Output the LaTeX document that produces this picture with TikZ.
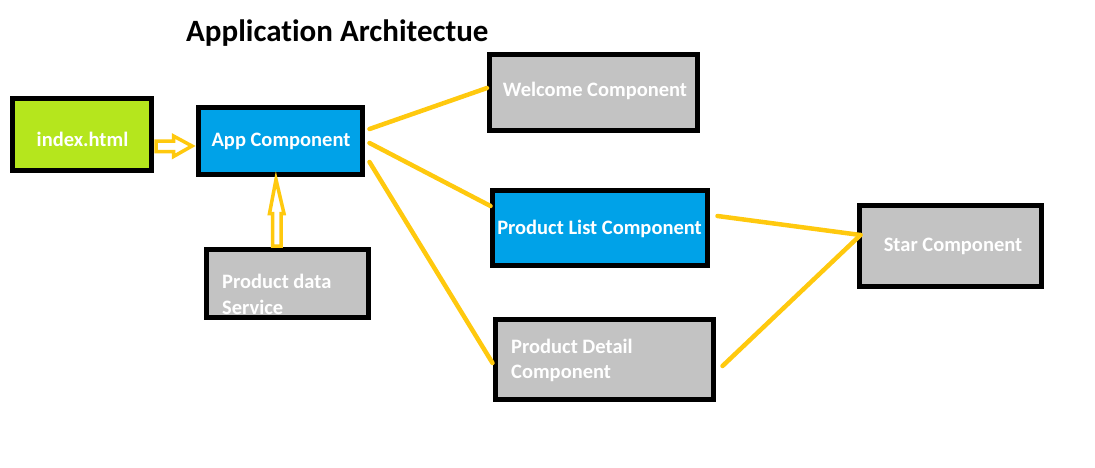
\documentclass[tikz,border=0pt]{standalone}
\usepackage{fontspec}
\setmainfont{Carlito}[Ligatures=NoCommon]
\usetikzlibrary{calc}
\definecolor{lime}{HTML}{B5E61D}
\definecolor{pblue}{HTML}{00A2E8}
\definecolor{pgray}{HTML}{C3C3C3}
\definecolor{pyellow}{HTML}{FFC90E}
\tikzset{
  box/.style={draw=black, line width=5pt, inner sep=0pt},
  boxtext/.style={text=white, font=\fontsize{20.5}{25.5}\selectfont\bfseries, inner sep=0pt},
  link/.style={draw=pyellow, line width=4.5pt, line cap=round},
  hollow/.style={draw=pyellow, fill=white, line width=3.5pt, line join=miter},
}
\begin{document}
\begin{tikzpicture}[x=1pt,y=-1pt]
\useasboundingbox (0,0) rectangle (1095,467);
\node[font=\fontsize{31}{36}\selectfont\bfseries, anchor=base west, inner sep=0pt] (title) at (186,41) {Application Architectue};

\node[box, fill=lime, minimum width=139pt, minimum height=72pt] (idx) at (82,134.5) {};
\node[boxtext] (idxt) at (82.5,139) {index.html};

\node[box, fill=pblue, minimum width=164pt, minimum height=67pt] (app) at (280.5,141) {};
\node[boxtext] (appt) at (281,141) {App Component};

\node[box, fill=pgray, minimum width=162pt, minimum height=68pt] (svc) at (287.5,283.5) {};
\node[boxtext, anchor=west, align=left] (svct) at (222,294.5) {Product data\\Service};

\node[box, fill=pgray, minimum width=208pt, minimum height=76pt] (wel) at (593.5,92.5) {};
\node[boxtext] (welt) at (595,91) {Welcome Component};

\node[box, fill=pblue, minimum width=215pt, minimum height=75pt] (list) at (600,228) {};
\node[boxtext] (listt) at (599.5,229) {Product List Component};

\node[box, fill=pgray, minimum width=218pt, minimum height=80pt] (det) at (604.5,359.5) {};
\node[boxtext, anchor=west, align=left] (dett) at (511,360.5) {Product Detail\\Component};

\node[box, fill=pgray, minimum width=182pt, minimum height=81pt] (star) at (950.5,246) {};
\node[boxtext] (start) at (953,246) {Star Component};

% connectors
\draw[link] ($(app.east)+(4.5,-12)$) -- ($(wel.west)+(0,-4.5)$);
\draw[link] ($(app.east)+(4.5,2)$) -- ($(list.west)+(0.5,-22)$);
\draw[link] ($(app.east)+(4.5,21)$) -- ($(det.west)+(-0.5,3.5)$);
\draw[link] ($(list.east)+(7.5,-12)$) -- ($(star.west)+(3.5,-11)$);
\draw[link] ($(det.east)+(6.5,6.5)$) -- ($(star.west)+(3.5,-11)$);

% hollow arrows
\draw[hollow] ($(app.west)+(-4,5)$) -- ($(app.west)+(-22.5,-5)$) -- ($(app.west)+(-22.5,0)$)
  -- ($(app.west)+(-40,0)$) -- ($(app.west)+(-40,10.5)$) -- ($(app.west)+(-22.5,10.5)$)
  -- ($(app.west)+(-22.5,15.5)$) -- cycle;
\draw[hollow] ($(app.south)+(-4.5,2.5)$) -- ($(app.south)+(-11,36.5)$) -- ($(app.south)+(-8,36.5)$)
  -- ($(svc.north)+(-15,-1)$) -- ($(svc.north)+(-6.5,-1)$) -- ($(app.south)+(0.5,36.5)$)
  -- ($(app.south)+(3.5,36.5)$) -- cycle;
\end{tikzpicture}
\end{document}
